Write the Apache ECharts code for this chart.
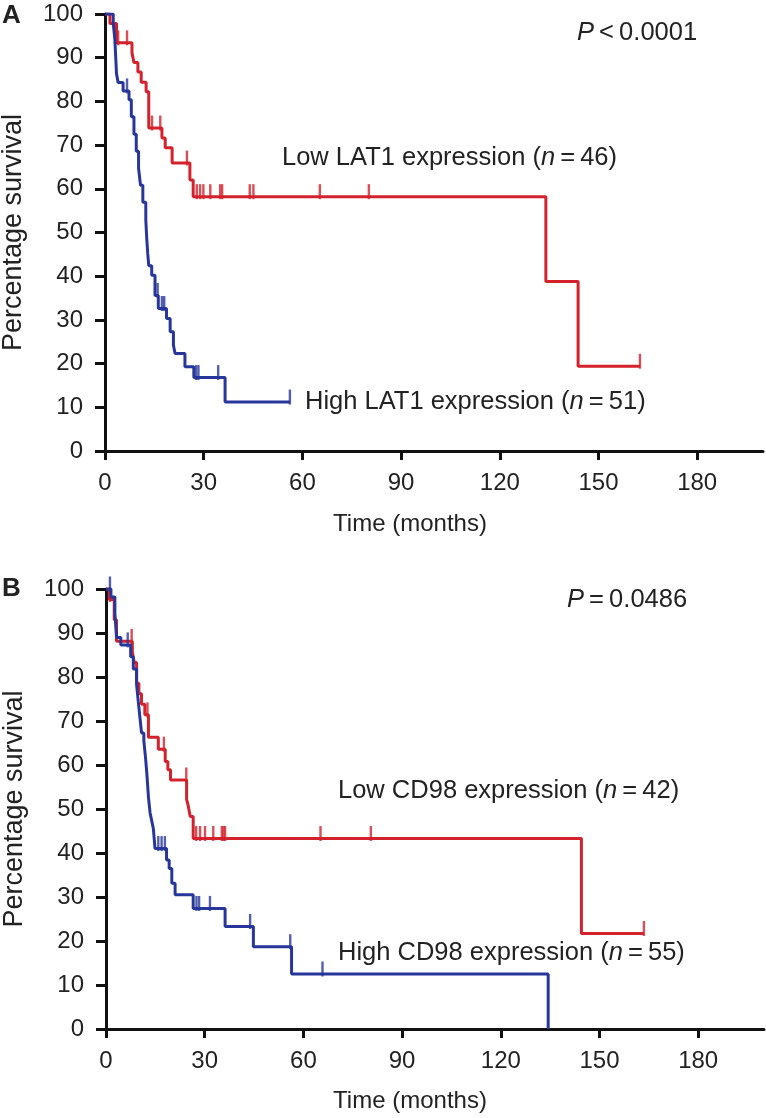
<!DOCTYPE html>
<html><head><meta charset="utf-8">
<script src="https://cdn.jsdelivr.net/npm/echarts@6/dist/echarts.min.js"></script>
<style>html,body{margin:0;padding:0;background:#fff}#c{width:766px;height:1118px}</style>
</head><body><div id="c"></div>
<script>
// ---- tick labels ----
const xTicks = [0, 30, 60, 90, 120, 150, 180];
const yTicks = [0, 10, 20, 30, 40, 50, 60, 70, 80, 90, 100];

// ---- Panel A: LAT1 ----
const lowLat1Time = [0, 1.5, 3.5, 8.2, 8.8, 10.0, 11.0, 12.5, 13.3, 17.3, 18.3, 20.4, 25.8, 26.8, 134.0, 143.8];
const lowLat1Surv = [100, 97.8, 93.4, 91.1, 88.9, 86.7, 84.4, 82.2, 73.9, 71.6, 69.4, 65.9, 62.0, 58.2, 38.8, 19.4];
const lowLat1End = 162.6;
const lowLat1Censor = [4.0, 6.7, 14.3, 16.8, 24.9, 27.9, 28.9, 29.9, 32.0, 35.0, 35.6, 44.0, 45.1, 65.3, 80.2, 162.6];

const highLat1Time = [0, 2.5, 3.0, 3.5, 4.0, 5.5, 7.3, 8.0, 8.8, 9.5, 10.2, 10.8, 11.5, 12.4, 12.7, 13.0, 13.3, 14.2, 15.2, 16.2, 18.7, 19.8, 20.8, 21.3, 24.3, 27.0, 36.5];
const highLat1Surv = [100, 98.0, 94.1, 86.3, 84.3, 82.4, 80.4, 76.5, 72.5, 68.6, 64.7, 60.8, 56.9, 52.9, 48.5, 45.1, 42.4, 40.2, 35.6, 32.6, 30.3, 27.3, 24.2, 22.3, 19.3, 16.8, 11.2];
const highLat1End = 56.2;
const highLat1Censor = [6.7, 16.0, 17.3, 18.0, 27.7, 28.4, 34.4, 56.2];

// ---- Panel B: CD98 ----
const lowCd98Time = [0, 1.0, 2.5, 3.2, 8.0, 8.6, 9.3, 10.0, 10.8, 11.8, 12.9, 15.9, 18.0, 18.8, 19.6, 24.5, 25.0, 25.6, 26.5, 144.5];
const lowCd98Surv = [100, 97.6, 93.0, 88.1, 85.7, 83.3, 78.6, 76.2, 73.8, 71.4, 66.3, 63.6, 60.8, 58.9, 56.6, 52.2, 50.7, 48.3, 43.3, 21.7];
const lowCd98End = 163.5;
const lowCd98Censor = [1.2, 7.8, 12.6, 17.6, 24.4, 27.4, 28.6, 30.1, 32.6, 35.2, 35.7, 36.2, 65.2, 80.5, 163.5];

const highCd98Time = [0, 1.5, 2.7, 3.2, 4.5, 7.5, 8.3, 9.3, 9.8, 10.3, 10.8, 11.5, 12.0, 12.4, 12.9, 13.4, 13.9, 14.4, 14.9, 18.4, 19.2, 20.0, 21.0, 26.5, 36.2, 44.8, 56.4, 134.4];
const highCd98Surv = [100, 98.2, 94.5, 89.0, 87.3, 84.6, 81.8, 78.2, 74.5, 70.9, 67.3, 65.5, 61.8, 58.2, 52.7, 49.1, 47.3, 45.5, 41.0, 38.4, 36.5, 33.1, 30.5, 27.4, 23.3, 18.7, 12.5, 0];
const highCd98End = 134.4;
const highCd98Censor = [1.2, 6.6, 15.9, 16.9, 17.9, 27.5, 28.3, 31.6, 43.8, 56.0, 65.8];

// ---- text ----
const panelLabels = ['A', 'B'];
const pTexts = ['{i|P}\u2009<\u20090.0001', '{i|P}\u2009=\u20090.0486'];
const lowLabels = ['Low LAT1 expression ({i|n}\u2009=\u200946)', 'Low CD98 expression ({i|n}\u2009=\u200942)'];
const highLabels = ['High LAT1 expression ({i|n}\u2009=\u200951)', 'High CD98 expression ({i|n}\u2009=\u200955)'];
const xTitle = 'Time (months)';
const yTitle = 'Percentage survival';

const RED = '#d3222c';
const BLUE = '#27369a';
const FONT = '"Liberation Sans", Arial, Helvetica, sans-serif';
const TXT = '#222';

function kmLine(times, surv, end) {
  const d = times.map((t, i) => [t, surv[i]]);
  if (end > times[times.length - 1]) d.push([end, surv[surv.length - 1]]);
  return d;
}
function censorPts(times, surv, cens) {
  return cens.map(c => {
    let s = surv[0];
    for (let i = 0; i < times.length; i++) if (times[i] <= c) s = surv[i];
    return [c, s];
  });
}

const chart = echarts.init(document.getElementById('c'), null, {renderer: 'canvas'});

function xAxisCfg(gi) {
  return {
    type: 'value', gridIndex: gi, min: 0, max: 200,
    axisLine: {show: true, onZero: false, lineStyle: {color: '#111', width: 3}},
    axisTick: {show: true, length: 9, lineStyle: {color: '#111', width: 3}, customValues: xTicks},
    axisLabel: {customValues: xTicks, fontSize: 24, fontFamily: FONT, color: TXT, margin: 20},
    splitLine: {show: false}
  };
}
function yAxisCfg(gi) {
  return {
    type: 'value', gridIndex: gi, min: 0, max: 100, interval: 10,
    axisLine: {show: true, onZero: false, lineStyle: {color: '#111', width: 3}},
    axisTick: {show: true, length: 10, lineStyle: {color: '#111', width: 3}, customValues: yTicks},
    axisLabel: {customValues: yTicks, fontSize: 24, fontFamily: FONT, color: TXT, margin: 22},
    splitLine: {show: false},
    name: yTitle, nameLocation: 'middle', nameGap: 78,
    nameTextStyle: {fontSize: 27, fontFamily: FONT, color: TXT}
  };
}
function lineSeries(data, color, gi, z) {
  return {type: 'line', step: 'end', data: data, xAxisIndex: gi, yAxisIndex: gi,
    showSymbol: false, symbol: 'none', lineStyle: {color: color, width: 3}, z: z, animation: false, silent: true};
}
function censorSeries(data, color, gi, z) {
  return {type: 'scatter', data: data, xAxisIndex: gi, yAxisIndex: gi,
    symbol: 'rect', symbolSize: [2.4, 15], symbolOffset: [0, -5],
    itemStyle: {color: color}, z: z, animation: false, silent: true};
}
function txt(text, x, y, opts) {
  opts = opts || {};
  const size = opts.size || 25.5;
  return {type: 'text', silent: true, z: 100, style: {
    text: text, x: x, y: y, fill: TXT,
    fontSize: size, fontFamily: FONT, fontWeight: opts.weight || 'normal',
    align: opts.align || 'left', verticalAlign: 'middle',
    textAlign: opts.align || 'left', textVerticalAlign: 'middle',
    rich: {i: {fontStyle: 'italic', fontSize: size, fontFamily: FONT, fill: TXT, color: TXT}}
  }};
}

const option = {
  backgroundColor: '#fff',
  animation: false,
  grid: [
    {left: 105, top: 14, width: 658, height: 437, outerBoundsMode: 'none', containLabel: false},
    {left: 106, top: 589, width: 658, height: 440, outerBoundsMode: 'none', containLabel: false}
  ],
  xAxis: [xAxisCfg(0), xAxisCfg(1)],
  yAxis: [yAxisCfg(0), yAxisCfg(1)],
  series: [
    lineSeries(kmLine(lowLat1Time, lowLat1Surv, lowLat1End), RED, 0, 2),
    censorSeries(censorPts(lowLat1Time, lowLat1Surv, lowLat1Censor), RED, 0, 2),
    lineSeries(kmLine(highLat1Time, highLat1Surv, highLat1End), BLUE, 0, 3),
    censorSeries(censorPts(highLat1Time, highLat1Surv, highLat1Censor), BLUE, 0, 3),
    lineSeries(kmLine(lowCd98Time, lowCd98Surv, lowCd98End), RED, 1, 2),
    censorSeries(censorPts(lowCd98Time, lowCd98Surv, lowCd98Censor), RED, 1, 2),
    lineSeries(kmLine(highCd98Time, highCd98Surv, highCd98End), BLUE, 1, 3),
    censorSeries(censorPts(highCd98Time, highCd98Surv, highCd98Censor), BLUE, 1, 3)
  ],
  graphic: [
    txt(panelLabels[0], 2, 16, {size: 26, weight: 'bold'}),
    txt(pTexts[0], 577, 33),
    txt(lowLabels[0], 282, 158),
    txt(highLabels[0], 305, 402),
    txt(xTitle, 410, 524, {align: 'center', size: 24}),
    txt(panelLabels[1], 2, 589, {size: 26, weight: 'bold'}),
    txt(pTexts[1], 567, 600),
    txt(lowLabels[1], 338, 791),
    txt(highLabels[1], 338, 953),
    txt(xTitle, 410, 1101, {align: 'center', size: 24})
  ]
};
chart.setOption(option);
</script>
</body></html>
